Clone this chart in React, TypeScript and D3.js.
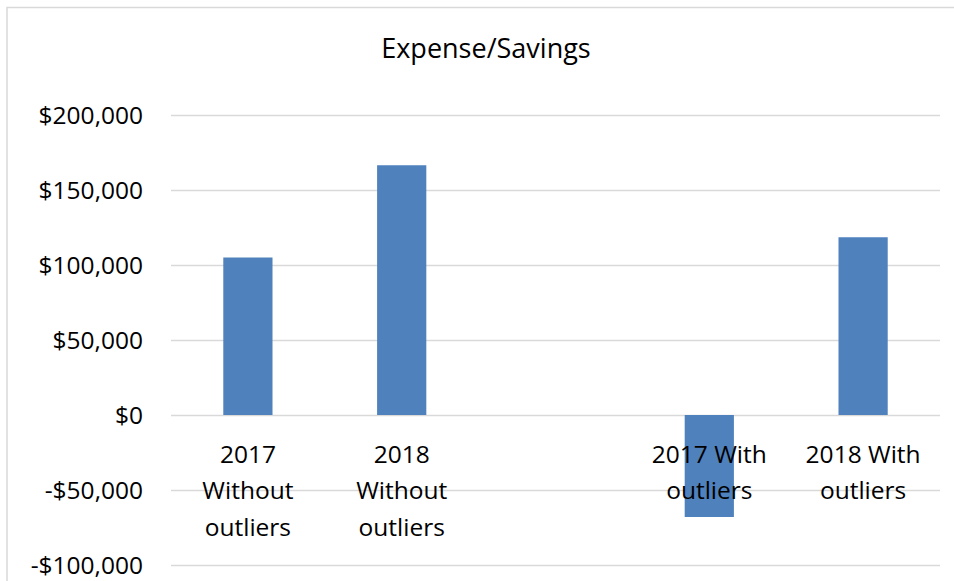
import { useEffect, useRef } from "react";
import * as d3 from "d3";

const categories = ["2017 Without outliers", "2018 Without outliers", "", "2017 With outliers", "2018 With outliers"];
const labelLines = [["2017", "Without", "outliers"], ["2018", "Without", "outliers"], [], ["2017 With", "outliers"], ["2018 With", "outliers"]];
const values = [105000, 166500, null, -68000, 118500];
const yTicks = [-100000, -50000, 0, 50000, 100000, 150000, 200000];

const W = 954;
const H = 581;
const FONT = "'Open Sans', 'Noto Sans', sans-serif";

export default function App() {
  const svgRef = useRef<SVGSVGElement | null>(null);

  useEffect(() => {
    if (!svgRef.current) return;
    const svg = d3.select(svgRef.current);
    svg.selectAll("*").remove();

    const keys = categories.map((c, i) => i + ":" + c);
    const x = d3.scaleBand<string>().domain(keys).range([171, 940]).paddingInner(0.68).paddingOuter(0.34);
    const band = d3.scaleBand<string>().domain(keys).range([171, 940]);
    const y = d3.scaleLinear().domain([-100000, 200000]).range([565, 115]);
    const fmt = (v: number) => (v < 0 ? "-$" : "$") + d3.format(",")(Math.abs(v));

    // chart frame (cut off at right/bottom, like the screenshot)
    svg.append("rect")
      .attr("x", 7).attr("y", 7.5)
      .attr("width", W + 20).attr("height", H + 20)
      .attr("fill", "#fff").attr("stroke", "#d9d9d9").attr("stroke-width", 1.5);

    svg.append("text")
      .attr("x", 486).attr("y", 58)
      .attr("text-anchor", "middle")
      .style("font-family", FONT).style("font-size", "27px").style("fill", "#000")
      .text("Expense/Savings");

    // gridlines
    svg.append("g").selectAll("line").data(yTicks).enter().append("line")
      .attr("x1", 171).attr("x2", 940)
      .attr("y1", d => Math.round(y(d)) + 0.5).attr("y2", d => Math.round(y(d)) + 0.5)
      .attr("stroke", "#d9d9d9").attr("stroke-width", 1.5);

    svg.append("g").selectAll("text").data(yTicks).enter().append("text")
      .attr("x", 143).attr("y", d => y(d))
      .attr("dy", "0.35em")
      .attr("text-anchor", "end")
      .style("font-family", FONT).style("font-size", "24.5px").style("fill", "#000")
      .text(d => fmt(d));

    // bars
    svg.append("g").selectAll("rect")
      .data(values.map((v, i) => ({ key: keys[i], v })).filter(d => d.v !== null) as { key: string; v: number }[])
      .enter().append("rect")
      .attr("x", d => x(d.key)!)
      .attr("width", x.bandwidth())
      .attr("y", d => y(Math.max(0, d.v)))
      .attr("height", d => Math.abs(y(d.v) - y(0)))
      .attr("fill", "#4f81bd");

    // category labels (drawn over bars like Excel)
    const lab = svg.append("g");
    labelLines.forEach((lines, i) => {
      const cx = band(keys[i])! + band.bandwidth() / 2;
      lines.forEach((line, j) => {
        lab.append("text")
          .attr("x", cx).attr("y", 454 + j * 36.5)
          .attr("dy", "0.35em")
          .attr("text-anchor", "middle")
          .style("font-family", FONT).style("font-size", "24.5px").style("fill", "#000")
          .text(line);
      });
    });
  }, []);

  return (
    <svg
      ref={svgRef}
      width={W}
      height={H}
      style={{ position: "absolute", left: 0, top: 0, background: "#fff", display: "block" }}
    />
  );
}
